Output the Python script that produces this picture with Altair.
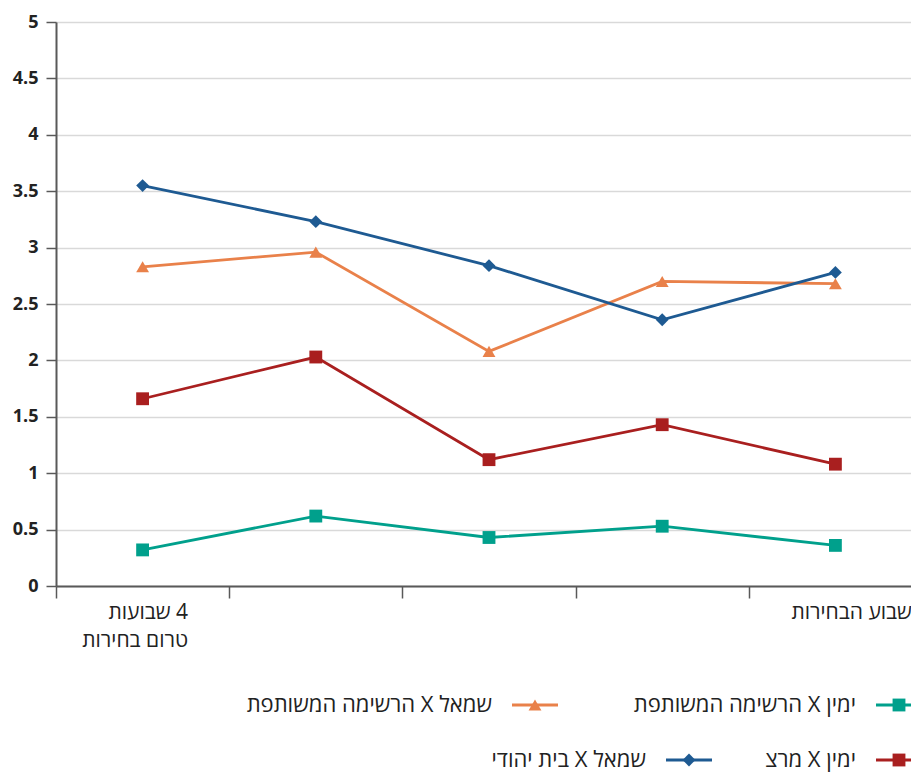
import json
import re
import altair as alt
import pandas as pd

# ---- data -----------------------------------------------------------
periods = [0, 1, 2, 3, 4]
x_tick_labels = [["4 שבועות", "טרום בחירות"], "", "", "", ["שבוע הבחירות"]]

series = [
    "ימין X הרשימה המשותפת",
    "ימין X מרצ",
    "שמאל X הרשימה המשותפת",
    "שמאל X בית יהודי",
]
right_joint_list = [0.32, 0.62, 0.43, 0.53, 0.36]
right_meretz = [1.66, 2.03, 1.12, 1.43, 1.08]
left_joint_list = [2.83, 2.96, 2.08, 2.70, 2.68]
left_jewish_home = [3.55, 3.23, 2.84, 2.36, 2.78]
y_ticks = [0, 0.5, 1, 1.5, 2, 2.5, 3, 3.5, 4, 4.5, 5]

# ---- styles ---------------------------------------------------------
colors = ["#00A08C", "#A91F1F", "#E9814A", "#1E5A92"]
shapes = ["square", "square", "triangle-up", "diamond"]
FONT = "Open Sans"

HEB = re.compile(r"[\u0590-\u05FF]")
LRM = "\u200e"


def visual(t):
    """Lay the Hebrew / Latin runs out right-to-left (as in the reference)
    inside the renderer's left-to-right text direction."""
    if not t:
        return t
    groups = []
    for tok in t.split(" "):
        h = bool(HEB.search(tok))
        if groups and groups[-1][0] == h:
            groups[-1][1].append(tok)
        else:
            groups.append((h, [tok]))
    parts = []
    for h, toks in reversed(groups):
        s = " ".join(toks)
        parts.append(s if h else LRM + s)
    return " ".join(parts)


values = [right_joint_list, right_meretz, left_joint_list, left_jewish_home]
rows = []
for s, vals in zip(series, values):
    for p, v in zip(periods, vals):
        rows.append({"period": p, "value": v, "series": s})
df = pd.DataFrame(rows)

# legend layout (pixel positions inside the plot frame)
legend_layout = {
    series[0]: (843, 683),
    series[2]: (479, 683),
    series[1]: (843, 738),
    series[3]: (633, 738),
}
leg_rows = []
for s in series:
    cx, cy = legend_layout[s]
    leg_rows.append({"series": s, "label": visual(s), "lx": cx, "x1": cx - 23,
                     "x2": cx + 23, "tx": cx - 43, "ly": cy})
leg_df = pd.DataFrame(leg_rows)

tick_text = [[visual(t) for t in l] if isinstance(l, list) else l for l in x_tick_labels]
label_expr = json.dumps(tick_text, ensure_ascii=False) + "[datum.value]"

color_enc = alt.Color("series:N", scale=alt.Scale(domain=series, range=colors), legend=None)
shape_enc = alt.Shape("series:N", scale=alt.Scale(domain=series, range=shapes), legend=None)

x_enc = alt.X(
    "period:O",
    scale=alt.Scale(type="band", paddingInner=0, paddingOuter=0),
    bandPosition=0.5,
    axis=alt.Axis(
        title=None,
        labelExpr=label_expr,
        labelAngle=0,
        labelFont=FONT,
        labelFontSize=21,
        labelColor="#222222",
        labelLineHeight=28,
        labelPadding=3,
        labelBaseline="top",
        labelAlign="right",
        labelOffset={"condition": {"test": "datum.value === 4", "value": 76}, "value": 45},
        tickBand="extent",
        tickSize=12,
        tickWidth=1.5,
        tickColor="#595959",
        domainColor="#595959",
        domainWidth=2,
        grid=False,
    ),
)
y_enc = alt.Y(
    "value:Q",
    scale=alt.Scale(domain=[0, 5], nice=False, zero=True),
    axis=alt.Axis(
        title=None,
        values=y_ticks,
        format="~g",
        labelFont=FONT,
        labelFontSize=18,
        labelFontWeight="bold",
        labelColor="#222222",
        labelPadding=8,
        tickSize=10,
        tickWidth=1.5,
        tickColor="#595959",
        domainColor="#595959",
        domainWidth=2,
        grid=True,
        gridColor="#D9D9D9",
        gridWidth=1.5,
    ),
)

base = alt.Chart(df).encode(x=x_enc, y=y_enc, color=color_enc)
lines = base.mark_line(strokeWidth=2.8)
points = base.mark_point(filled=True, opacity=1, size=165).encode(shape=shape_enc)
main = alt.layer(lines, points)

leg = alt.Chart(leg_df)
leg_y = alt.Y("ly:Q", scale=None, axis=None)
leg_rule = leg.mark_rule(strokeWidth=2.8).encode(
    x=alt.X("x1:Q", scale=None, axis=None), x2="x2:Q", y=leg_y, color=color_enc
)
leg_pt = leg.mark_point(filled=True, opacity=1, size=165).encode(
    x=alt.X("lx:Q", scale=None, axis=None), y=leg_y, color=color_enc, shape=shape_enc
)
leg_txt = leg.mark_text(
    align="right", baseline="middle", font=FONT, fontSize=22, color="#222222"
).encode(x=alt.X("tx:Q", scale=None, axis=None), y=leg_y, text="label:N")
legend = alt.layer(leg_rule, leg_pt, leg_txt)

chart = (
    alt.layer(main, legend)
    .resolve_scale(x="independent", y="independent")
    .properties(
        width=866,
        height=564,
        padding={"left": 48, "top": 14, "right": -11, "bottom": 186},
        autosize=alt.AutoSizeParams(type="none"),
    )
    .configure_view(fill="#FEFADF", stroke=None)
    .configure(font=FONT)
)

chart.save("out.html", embed_options={"renderer": "svg", "actions": False})
